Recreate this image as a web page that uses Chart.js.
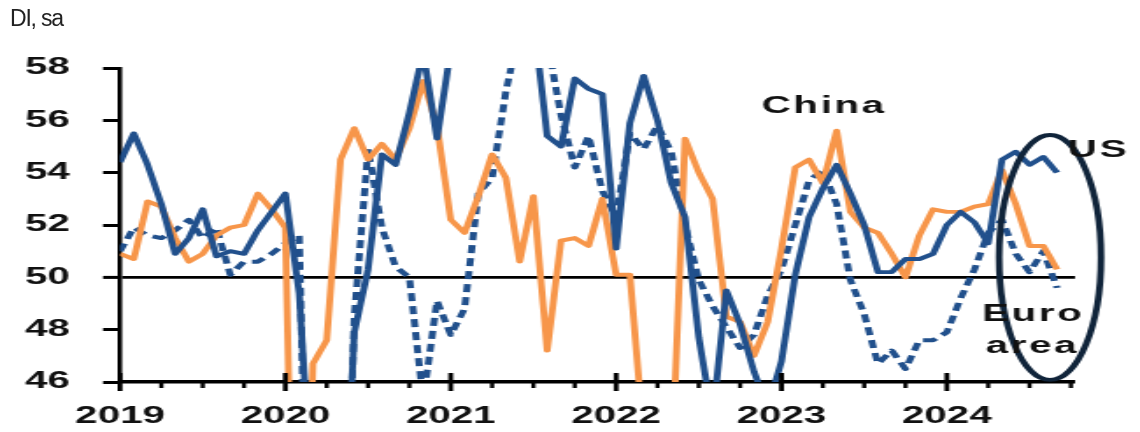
<!DOCTYPE html>
<html>
<head>
<meta charset="utf-8">
<script src="https://cdn.jsdelivr.net/npm/chart.js@4.4.1/dist/chart.umd.min.js"></script>
<style>
  html, body { margin: 0; padding: 0; background: #fff; }
  #wrap { position: relative; width: 1140px; height: 432px; overflow: hidden; background: #fff; }
  /* the bitmap is drawn narrow and widened by CSS, which gives the wide lettering */
  #pmi { position: absolute; left: 0; top: 0; width: 1140px !important; height: 432px !important; }
  #unit { position: absolute; left: 10px; top: 7px; font: 23px "Liberation Sans", Arial, sans-serif;
          color: #222; letter-spacing: -1.2px; line-height: 1; }
</style>
</head>
<body>
<div id="wrap">
  <canvas id="pmi" width="650" height="432" style="width:1140px;height:432px"></canvas>
  <div id="unit">DI, sa</div>
</div>
<script>
// Composite PMIs, monthly, Jan 2019 - Sep 2024
const years = ['2019', '2020', '2021', '2022', '2023', '2024'];

const usPMI = [
  54.4, 55.5, 54.3, 52.8, 50.9, 51.5, 52.6, 50.8, 51.0, 50.9, 51.8, 52.5,
  53.2, 49.4, 40.9, 27.0, 37.0, 47.9, 50.3, 54.7, 54.3, 56.3, 58.6, 55.3,
  58.7, 59.5, 59.7, 63.5, 68.7, 63.7, 59.9, 55.4, 55.0, 57.6, 57.2, 57.0,
  51.1, 55.9, 57.7, 56.0, 53.6, 52.3, 47.7, 44.6, 49.5, 48.2, 46.4, 45.0,
  46.8, 50.1, 52.3, 53.4, 54.3, 53.2, 52.0, 50.2, 50.2, 50.7, 50.7, 50.9,
  52.0, 52.5, 52.1, 51.3, 54.5, 54.8, 54.3, 54.6, 54.0
];

const euroPMI = [
  51.0, 51.9, 51.6, 51.5, 51.8, 52.2, 51.5, 51.9, 50.1, 50.6, 50.6, 50.9,
  51.3, 51.6, 29.7, 13.6, 31.9, 48.5, 54.9, 51.9, 50.4, 50.0, 45.3, 49.1,
  47.8, 48.8, 53.2, 53.8, 57.1, 59.5, 60.2, 59.0, 56.2, 54.2, 55.4, 53.3,
  52.3, 55.5, 54.9, 55.8, 54.8, 52.0, 49.9, 48.9, 48.1, 47.3, 47.8, 49.3,
  50.3, 52.0, 53.7, 54.1, 52.8, 49.9, 48.6, 46.7, 47.2, 46.5, 47.6, 47.6,
  47.9, 49.2, 50.3, 51.7, 52.2, 50.9, 50.2, 51.0, 49.6
];

const chinaPMI = [
  50.9, 50.7, 52.9, 52.7, 51.5, 50.6, 50.9, 51.6, 51.9, 52.0, 53.2, 52.6,
  51.9, 27.5, 46.7, 47.6, 54.5, 55.7, 54.5, 55.1, 54.5, 55.7, 57.5, 55.8,
  52.2, 51.7, 53.1, 54.7, 53.8, 50.6, 53.1, 47.2, 51.4, 51.5, 51.2, 53.0,
  50.1, 50.1, 43.9, 37.2, 42.2, 55.3, 54.0, 53.0, 48.5, 48.3, 47.0, 48.3,
  51.1, 54.2, 54.5, 53.6, 55.6, 52.5, 51.9, 51.7, 50.9, 50.0, 51.6, 52.6,
  52.5, 52.5, 52.7, 52.8, 54.1, 52.8, 51.2, 51.2, 50.3
];

// series name tags: [text, month index, index value]
const seriesTags = [
  ['China', 51.1, 56.28],
  ['US', 71.0, 54.6],
  ['Euro', 66.27, 48.33],
  ['area', 66.2, 47.1]
];

// ring round the latest readings: centre month, centre value, half-width (months), half-height (points)
const ring = { x: 67.49, y: 50.76, rx: 3.70, ry: 4.68 };

const NAVY = '#21508c';
const ORANGE = '#f7964a';
const INK = '#111111';
const FONT = '"Liberation Sans", Arial, Helvetica, sans-serif';

const CANVAS_W = 650;
const SX = 1140 / CANVAS_W;          // horizontal widening applied by CSS

const toPoints = arr => arr.map((v, i) => ({ x: i, y: v }));

// quarterly tick marks on the time axis, taller at each new year
const timeTicks = {
  id: 'timeTicks',
  afterDraw(chart) {
    const { ctx, chartArea, scales: { x } } = chart;
    ctx.save();
    ctx.strokeStyle = '#000';
    x.ticks.forEach(t => {
      const px = x.getPixelForValue(t.value);
      ctx.beginPath();
      if (t.value % 12 === 0) {
        ctx.lineWidth = 2.8;
        ctx.moveTo(px, chartArea.bottom - 9);
        ctx.lineTo(px, chartArea.bottom + 9);
      } else {
        ctx.lineWidth = 2.4;
        ctx.moveTo(px, chartArea.bottom);
        ctx.lineTo(px, chartArea.bottom + 6);
      }
      ctx.stroke();
    });
    ctx.restore();
  }
};

// series tags and the ring
const notes = {
  id: 'notes',
  afterDraw(chart) {
    const { ctx, scales: { x, y } } = chart;
    ctx.save();
    const cx = x.getPixelForValue(ring.x);
    const cy = y.getPixelForValue(ring.y);
    const rx = x.getPixelForValue(ring.x + ring.rx) - cx;
    const ry = cy - y.getPixelForValue(ring.y + ring.ry);
    ctx.beginPath();
    ctx.ellipse(cx, cy, rx, ry, 0, 0, Math.PI * 2);
    ctx.strokeStyle = '#10243a';
    ctx.lineWidth = 3.8;
    ctx.stroke();

    ctx.fillStyle = INK;
    ctx.font = 'bold 23px ' + FONT;
    ctx.textAlign = 'center';
    ctx.textBaseline = 'alphabetic';
    if ('letterSpacing' in ctx) ctx.letterSpacing = '1.5px';
    seriesTags.forEach(([txt, mx, vy]) => {
      ctx.fillText(txt, x.getPixelForValue(mx), y.getPixelForValue(vy));
    });
    ctx.restore();
  }
};

const lineStyle = {
  pointRadius: 0,
  pointHoverRadius: 0,
  tension: 0,
  clip: 0,
  fill: false,
  borderJoinStyle: 'round',
  borderCapStyle: 'butt'
};

new Chart(document.getElementById('pmi'), {
  type: 'line',
  data: {
    datasets: [
      { label: 'US', data: toPoints(usPMI), borderColor: NAVY, borderWidth: 3.9, ...lineStyle },
      { label: 'China', data: toPoints(chinaPMI), borderColor: ORANGE, borderWidth: 3.9, ...lineStyle },
      { label: 'Euro area', data: toPoints(euroPMI), borderColor: NAVY, borderWidth: 4,
        borderDash: [8, 5], ...lineStyle }
    ]
  },
  options: {
    responsive: false,
    animation: false,
    devicePixelRatio: 1,
    events: [],
    layout: { padding: { top: 68, right: CANVAS_W - 1075 / SX, bottom: 0, left: 0 } },
    plugins: { legend: { display: false }, tooltip: { enabled: false }, title: { display: false } },
    scales: {
      x: {
        type: 'linear',
        min: 0,
        max: 69.3,
        afterFit(scale) { scale.height = 50; },
        grid: { display: false, drawTicks: false },
        border: { display: true, color: '#000', width: 3.4 },
        ticks: {
          stepSize: 3,
          autoSkip: false,
          includeBounds: false,
          maxRotation: 0,
          minRotation: 0,
          padding: 21,
          color: INK,
          font: { family: FONT, size: 23, weight: 'bold' },
          callback: v => (v % 12 === 0 ? years[v / 12] : '')
        }
      },
      y: {
        min: 46,
        max: 58,
        afterFit(scale) { scale.width = 120 / SX; },
        border: { display: true, color: '#000', width: 2.6 },
        grid: {
          drawOnChartArea: true,
          drawTicks: true,
          tickLength: 9.7,
          tickWidth: 3,
          tickColor: '#000',
          color: c => (c.tick && c.tick.value === 50 ? '#000' : 'rgba(0,0,0,0)'),
          lineWidth: c => (c.tick && c.tick.value === 50 ? 2.8 : 1)
        },
        ticks: {
          stepSize: 2,
          padding: 19,
          color: INK,
          font: { family: FONT, size: 23, weight: 'bold' }
        }
      }
    }
  },
  plugins: [timeTicks, notes]
});
</script>
</body>
</html>
